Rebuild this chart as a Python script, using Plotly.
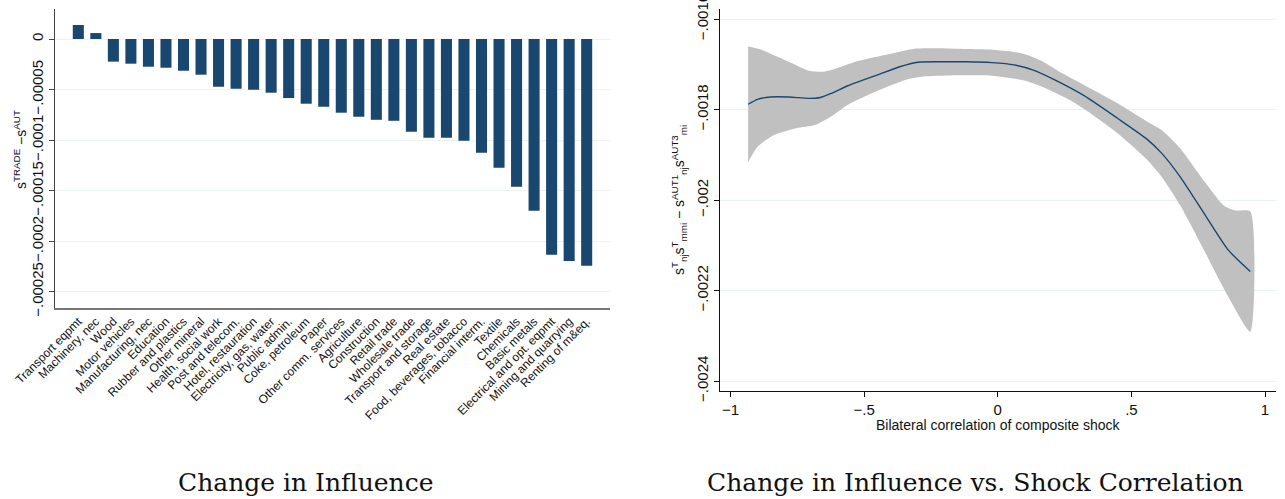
import plotly.graph_objects as go

# ---------------- Left panel data ----------------
sectors = ["Transport eqpmt", "Machinery, nec", "Wood", "Motor vehicles", "Manufacturing, nec",
           "Education", "Rubber and plastics", "Other mineral", "Health, social work",
           "Post and telecom.", "Hotel, restauration", "Electricity, gas, water", "Public admin.",
           "Coke, petroleum", "Paper", "Other comm. services", "Agriculture", "Construction",
           "Retail trade", "Wholesale trade", "Transport and storage", "Real estate",
           "Food, beverages, tobacco", "Financial interm.", "Textile", "Chemicals",
           "Basic metals", "Electrical and opt. eqpmt", "Mining and quarrying", "Renting of m&eq."]
influence_change = [0.0000139, 0.0000059, -0.0000224, -0.0000244, -0.0000274, -0.0000284,
                    -0.0000314, -0.0000353, -0.0000472, -0.0000492, -0.0000502, -0.0000531,
                    -0.0000584, -0.0000640, -0.0000670, -0.0000729, -0.0000769, -0.0000799,
                    -0.0000809, -0.0000917, -0.0000977, -0.0000977, -0.0001007, -0.0001125,
                    -0.0001274, -0.0001462, -0.0001700, -0.0002135, -0.0002195, -0.0002244]
left_ytick_vals = [-0.00025, -0.0002, -0.00015, -0.0001, -0.00005, 0]
left_ytick_text = ["\u2212.00025", "\u2212.0002", "\u2212.00015", "\u2212.0001", "\u2212.00005", "0"]

# ---------------- Right panel data ----------------
corr_mean = [-0.934, -0.899, -0.851, -0.782, -0.706, -0.664, -0.623, -0.561, -0.450, -0.367,
             -0.298, -0.215, -0.119, -0.022, 0.061, 0.130, 0.213, 0.323, 0.448, 0.558,
             0.613, 0.682, 0.779, 0.862, 0.945]
fit_mean = [-0.001788, -0.001777, -0.001772, -0.001772, -0.001775, -0.001773, -0.001764,
            -0.001747, -0.001723, -0.001705, -0.001695, -0.001694, -0.001694, -0.001696,
            -0.001701, -0.001712, -0.001734, -0.001769, -0.001819, -0.001865, -0.001896,
            -0.001948, -0.002036, -0.002110, -0.002158]
corr_upper = [-0.934, -0.892, -0.782, -0.706, -0.657, -0.616, -0.533, -0.423, -0.312, -0.215,
              -0.105, -0.008, 0.088, 0.157, 0.240, 0.337, 0.448, 0.558, 0.613, 0.682,
              0.779, 0.848, 0.889, 0.945]
ci_upper = [-0.001660, -0.001666, -0.001694, -0.001714, -0.001716, -0.001711, -0.001694,
            -0.001679, -0.001665, -0.001664, -0.001666, -0.001668, -0.001675, -0.001690,
            -0.001719, -0.001750, -0.001786, -0.001826, -0.001845, -0.001885, -0.001963,
            -0.002013, -0.002023, -0.002025]
corr_lower = [-0.934, -0.899, -0.837, -0.754, -0.685, -0.616, -0.561, -0.450, -0.340, -0.285,
              -0.146, -0.022, 0.088, 0.157, 0.268, 0.337, 0.448, 0.558, 0.613, 0.682,
              0.765, 0.862, 0.945]
ci_lower = [-0.001916, -0.001882, -0.001856, -0.001841, -0.001834, -0.001812, -0.001789,
            -0.001758, -0.001733, -0.001727, -0.001724, -0.001725, -0.001734, -0.001747,
            -0.001778, -0.001804, -0.001852, -0.001910, -0.001948, -0.002011, -0.002103,
            -0.002213, -0.002291]
right_xtick_vals = [-1, -0.5, 0, 0.5, 1]
right_xtick_text = ["\u22121", "\u2212.5", "0", ".5", "1"]
right_ytick_vals = [-0.0024, -0.0022, -0.002, -0.0018, -0.0016]
right_ytick_text = ["\u2212.0024", "\u2212.0022", "\u2212.002", "\u2212.0018", "\u2212.0016"]

NAVY = "#1a476f"
GRID = "#eaf2f3"
SANS = "Liberation Sans, Arial, sans-serif"
SERIF = "DejaVu Serif, serif"

fig = go.Figure()

fig.add_trace(go.Bar(x=list(range(len(sectors))), y=influence_change, marker_color=NAVY,
                     marker_line_width=0, width=0.63, xaxis="x", yaxis="y", showlegend=False))

band_x = corr_upper + corr_lower[::-1]
band_y = ci_upper + ci_lower[::-1]
fig.add_trace(go.Scatter(x=band_x, y=band_y, fill="toself", fillcolor="#c0c0c0",
                         line=dict(width=0, shape="spline", smoothing=0.6), mode="lines",
                         xaxis="x2", yaxis="y2", showlegend=False, hoverinfo="skip"))
fig.add_trace(go.Scatter(x=corr_mean, y=fit_mean, mode="lines",
                         line=dict(color=NAVY, width=1.4, shape="spline", smoothing=0.6),
                         xaxis="x2", yaxis="y2", showlegend=False))

W, H = 1285, 499
fig.update_layout(
    width=W, height=H, margin=dict(l=0, r=0, t=0, b=0, autoexpand=False),
    paper_bgcolor="white", plot_bgcolor="white",
    font=dict(family=SANS, color="#111"),
    xaxis=dict(domain=[55 / W, 610 / W], range=[-1.33, 30.33], automargin=False,
               tickmode="array", tickvals=list(range(len(sectors))), ticktext=sectors,
               tickangle=-45, tickfont=dict(size=12, family=SANS, color="#111"),
               ticklabeloverflow="allow",
               showgrid=False, zeroline=False, showline=True, linecolor="#777", linewidth=1.5,
               ticks="", anchor="y"),
    yaxis=dict(domain=[(H - 308) / H, (H - 9) / H], range=[-0.0002661, 0.0000297],
               automargin=False, ticklabeloverflow="allow",
               tickmode="array", tickvals=left_ytick_vals, ticktext=left_ytick_text,
               tickangle=-90, tickfont=dict(size=15, family=SANS, color="#111"),
               showgrid=True, gridcolor=GRID, gridwidth=1.2, zeroline=False,
               showline=True, linecolor="#444", linewidth=1.2,
               ticks="outside", ticklen=5, tickcolor="#444", anchor="x"),
    xaxis2=dict(domain=[720 / W, 1276 / W], range=[-1.0393, 1.041], automargin=False,
                ticklabeloverflow="allow",
                tickmode="array", tickvals=right_xtick_vals, ticktext=right_xtick_text,
                tickfont=dict(size=15, family=SANS, color="#111"),
                showgrid=False, zeroline=False, showline=True, linecolor="#111", linewidth=1.2,
                ticks="outside", ticklen=5, tickcolor="#111", anchor="y2"),
    yaxis2=dict(domain=[(H - 391) / H, (H - 9.3) / H], range=[-0.002422, -0.001578],
                automargin=False, ticklabeloverflow="allow",
                tickmode="array", tickvals=right_ytick_vals, ticktext=right_ytick_text,
                tickangle=-90, tickfont=dict(size=15, family=SANS, color="#111"),
                showgrid=True, gridcolor=GRID, gridwidth=1.2, zeroline=False,
                showline=True, linecolor="#111", linewidth=1.2,
                ticks="outside", ticklen=5, tickcolor="#111", anchor="x2"),
    annotations=[
        dict(text="s<sup>TRADE</sup> \u2212s<sup>AUT</sup>", x=20 / W, y=(H - 150) / H,
             xref="paper", yref="paper", textangle=-90, showarrow=False,
             font=dict(size=14, family=SANS, color="#111"), xanchor="center", yanchor="middle"),
        dict(text="s<sup>T</sup><sub>nj</sub>s<sup>T</sup><sub>mmi</sub> \u2212 s<sup>AUT1</sup><sub>nj</sub>s<sup>AUT3</sup><sub>mi</sub>",
             x=679 / W, y=(H - 200) / H, xref="paper", yref="paper", textangle=-90,
             showarrow=False, font=dict(size=14, family=SANS, color="#111"),
             xanchor="center", yanchor="middle"),
        dict(text="Bilateral correlation of composite shock", x=998 / W, y=(H - 425) / H,
             xref="paper", yref="paper", showarrow=False,
             font=dict(size=14, family=SANS, color="#111"), xanchor="center", yanchor="middle"),
        dict(text="Change in Influence", x=305 / W, y=(H - 482) / H, xref="paper", yref="paper",
             showarrow=False, font=dict(size=25, family=SERIF, color="#111"),
             xanchor="center", yanchor="middle"),
        dict(text="Change in Influence vs. Shock Correlation", x=975 / W, y=(H - 482) / H,
             xref="paper", yref="paper", showarrow=False,
             font=dict(size=25, family=SERIF, color="#111"), xanchor="center", yanchor="middle"),
    ],
)

fig.write_html("out.html")
